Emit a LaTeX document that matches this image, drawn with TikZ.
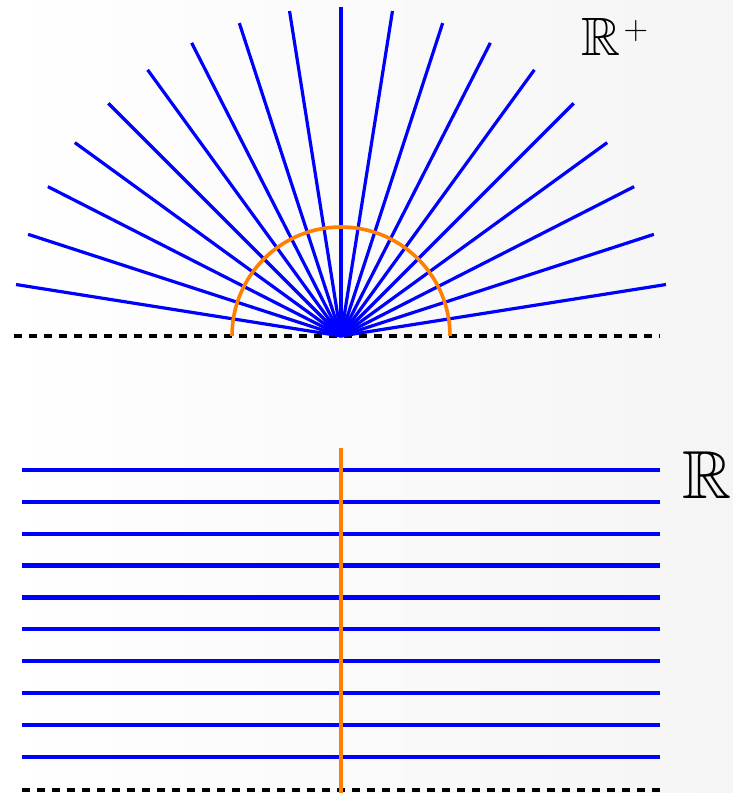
\documentclass[tikz,border=0pt]{standalone}
\usepackage{amsmath,amssymb}
\usepackage{xcolor}
\usepackage{tikz}
\usetikzlibrary{calc}
\definecolor{RayBlue}{HTML}{0000FF}
\definecolor{ArcOrange}{HTML}{FF8000}
\definecolor{BgGray}{HTML}{F5F5F5}

\begin{document}
\begin{tikzpicture}[x=1pt,y=1pt,
    ray/.style={RayBlue, line width=3.2pt},
    level/.style={RayBlue, line width=4.2pt},
    axisline/.style={black, line width=3.2pt, dash pattern=on 8pt off 7pt},
    slice/.style={ArcOrange, line width=3.6pt}]
      \shade[left color=white, right color=BgGray] (0,0) rectangle (733,793);
      \useasboundingbox (0,0) rectangle (733,793);
      % upper half plane
      \coordinate (apex) at (341,457);
      \draw[axisline] (14,457) -- (660,457);
      \foreach \a in {9,18,...,171}
        \draw[ray] (apex) -- ++(\a:329);
      \draw[slice] (450,457) arc (0:180:109);
      \node[font=\fontsize{54}{60}\selectfont, anchor=base west] (rplus) at (578,737)
        {$\mathbb{R}$\kern3pt\raisebox{16pt}{\fontsize{34}{34}\selectfont +}};
      % real line
      \draw[axisline] (22,3) -- (660,3);
      \foreach \k in {0,...,9}
        \draw[level] (22,{36+31.9*\k}) -- (660,{36+31.9*\k});
      \draw[slice] (341,345) -- (341,0);
      \node[font=\fontsize{68}{72}\selectfont] (rline) at (707,318) {$\mathbb{R}$};
    \end{tikzpicture}
\end{document}
